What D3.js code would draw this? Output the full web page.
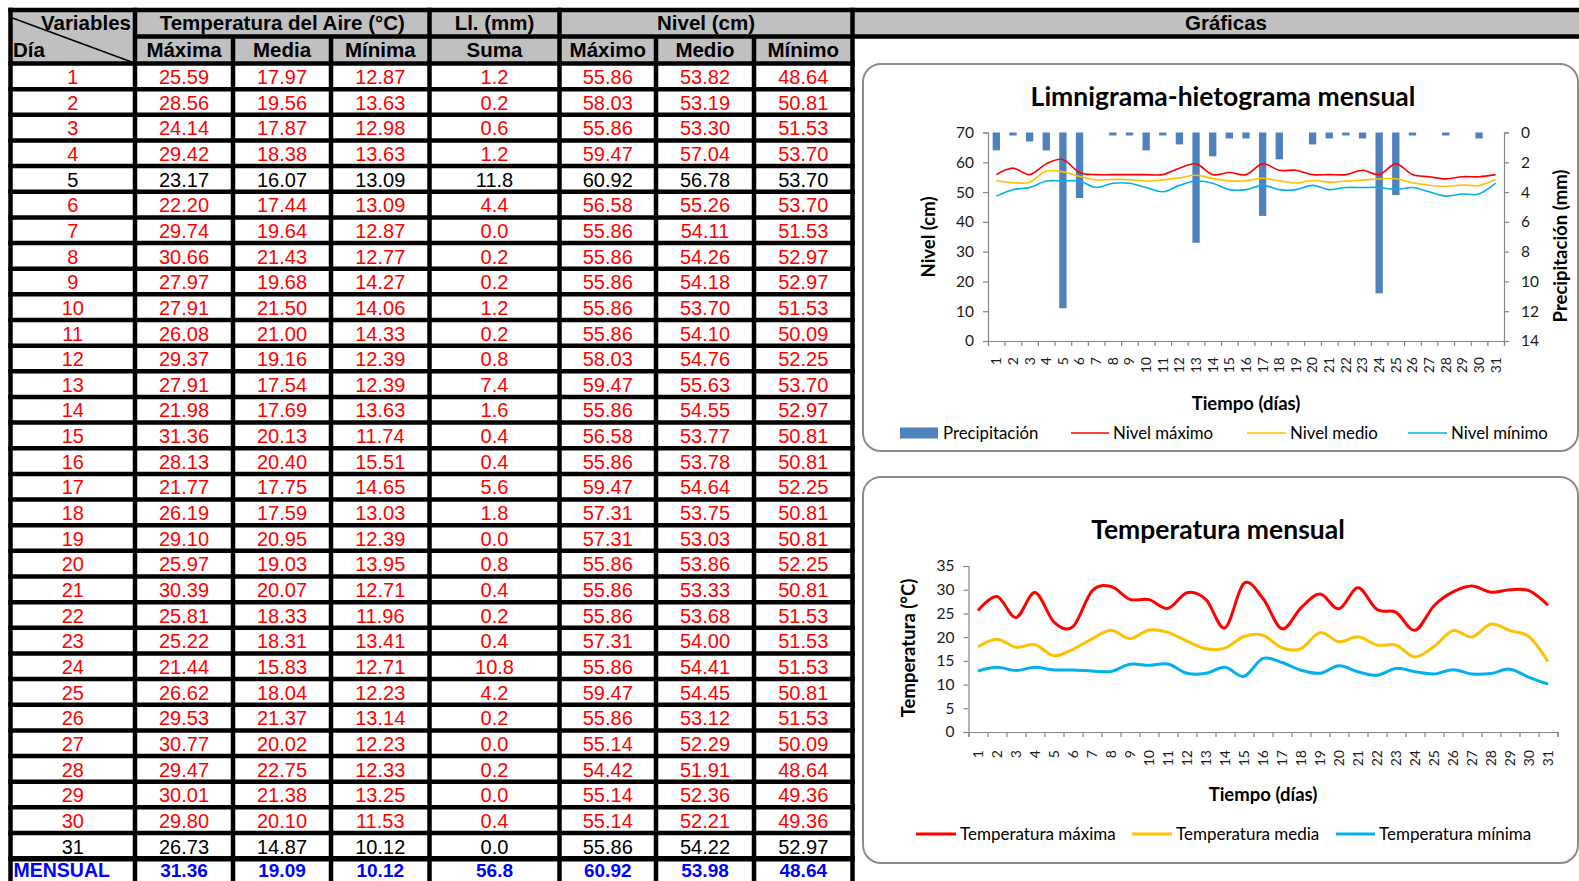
<!DOCTYPE html>
<html><head><meta charset="utf-8">
<script src="https://cdn.jsdelivr.net/npm/d3@7"></script>
<style>
html,body{margin:0;padding:0;background:#fff;overflow:hidden}
svg{display:block}
</style></head>
<body>
<svg id="root" width="1579" height="881"></svg>
<script>
// ---------------- DATA ----------------
const dias = d3.range(1, 32);
const tempMax = [25.59,28.56,24.14,29.42,23.17,22.20,29.74,30.66,27.97,27.91,26.08,29.37,27.91,21.98,31.36,28.13,21.77,26.19,29.10,25.97,30.39,25.81,25.22,21.44,26.62,29.53,30.77,29.47,30.01,29.80,26.73];
const tempMed = [17.97,19.56,17.87,18.38,16.07,17.44,19.64,21.43,19.68,21.50,21.00,19.16,17.54,17.69,20.13,20.40,17.75,17.59,20.95,19.03,20.07,18.33,18.31,15.83,18.04,21.37,20.02,22.75,21.38,20.10,14.87];
const tempMin = [12.87,13.63,12.98,13.63,13.09,13.09,12.87,12.77,14.27,14.06,14.33,12.39,12.39,13.63,11.74,15.51,14.65,13.03,12.39,13.95,12.71,11.96,13.41,12.71,12.23,13.14,12.23,12.33,13.25,11.53,10.12];
const lluvia  = [1.2,0.2,0.6,1.2,11.8,4.4,0.0,0.2,0.2,1.2,0.2,0.8,7.4,1.6,0.4,0.4,5.6,1.8,0.0,0.8,0.4,0.2,0.4,10.8,4.2,0.2,0.0,0.2,0.0,0.4,0.0];
const nivelMax = [55.86,58.03,55.86,59.47,60.92,56.58,55.86,55.86,55.86,55.86,55.86,58.03,59.47,55.86,56.58,55.86,59.47,57.31,57.31,55.86,55.86,55.86,57.31,55.86,59.47,55.86,55.14,54.42,55.14,55.14,55.86];
const nivelMed = [53.82,53.19,53.30,57.04,56.78,55.26,54.11,54.26,54.18,53.70,54.10,54.76,55.63,54.55,53.77,53.78,54.64,53.75,53.03,53.86,53.33,53.68,54.00,54.41,54.45,53.12,52.29,51.91,52.36,52.21,54.22];
const nivelMin = [48.64,50.81,51.53,53.70,53.70,53.70,51.53,52.97,52.97,51.53,50.09,52.25,53.70,52.97,50.81,50.81,52.25,50.81,50.81,52.25,50.81,51.53,51.53,51.53,50.81,51.53,50.09,48.64,49.36,49.36,52.97];
const mensual = [31.36,19.09,10.12,56.8,60.92,53.98,48.64];
const subHeaders = ["Máxima","Media","Mínima","Suma","Máximo","Medio","Mínimo"];
const groupHeaders = [["Temperatura del Aire (°C)",1,4],["Ll. (mm)",4,5],["Nivel (cm)",5,8]];
const nivelTicks = d3.range(0, 71, 10);
const precTicks = d3.range(0, 15, 2);
const tempTicks = d3.range(0, 36, 5);

// ---------------- TABLE ----------------
const svg = d3.select("#root");
const colX = [10.5,135,233,331,429.5,559.5,656,754,852.5];
const yTop = 10, yH1 = 36.5, yH2 = 63.5, rowH = 25.65;
const rowY = k => yH2 + k*rowH;
const tbl = svg.append("g");
const GRAY = "#c0c0c0";
const FT = "'Liberation Sans', Arial, sans-serif";

tbl.append("rect").attr("x",colX[0]).attr("y",yTop).attr("width",1579-colX[0]).attr("height",yH2-yTop).attr("fill",GRAY);
tbl.append("rect").attr("x",colX[8]).attr("y",yH1).attr("width",1579-colX[8]).attr("height",yH2-yH1+2).attr("fill","#fff");

const columns = [dias, tempMax, tempMed, tempMin, lluvia, nivelMax, nivelMed, nivelMin];
const fmt = [d=>String(d), d=>d.toFixed(2), d=>d.toFixed(2), d=>d.toFixed(2), d=>d.toFixed(1), d=>d.toFixed(2), d=>d.toFixed(2), d=>d.toFixed(2)];
const blackDays = new Set([5,31]);

dias.forEach((d,i)=>{
  const cy = rowY(i) + rowH/2 + 0.5;
  columns.forEach((col,c)=>{
    tbl.append("text").attr("x",(colX[c]+colX[c+1])/2).attr("y",cy).attr("dy","0.36em")
      .attr("text-anchor","middle").attr("font-family",FT).attr("font-size",20)
      .attr("fill", blackDays.has(d) ? "#000" : "#ff0000").text(fmt[c](col[i]));
  });
});
{
  const cy = rowY(31) + rowH/2 - 1.5;
  tbl.append("text").attr("x",colX[0]+3).attr("y",cy).attr("dy","0.36em").attr("font-family",FT)
    .attr("font-size",19.5).attr("font-weight","bold").attr("fill","#0000ff").text("MENSUAL");
  mensual.forEach((v,c)=>{
    tbl.append("text").attr("x",(colX[c+1]+colX[c+2])/2).attr("y",cy).attr("dy","0.36em")
      .attr("text-anchor","middle").attr("font-family",FT).attr("font-size",19).attr("font-weight","bold")
      .attr("fill","#0000ff").text(c===3 ? v.toFixed(1) : v.toFixed(2));
  });
}
const hb = (x,y,t,anchor)=>tbl.append("text").attr("x",x).attr("y",y).attr("dy","0.36em").attr("text-anchor",anchor||"middle")
  .attr("font-family",FT).attr("font-size",20.5).attr("font-weight","bold").attr("fill","#000").text(t);
const h1y = (yTop+yH1)/2 - 0.5, h2y = (yH1+yH2)/2 - 0.5;
hb(131,h1y,"Variables","end");
hb(13,h2y,"Día","start");
groupHeaders.forEach(([t,a,b])=>hb((colX[a]+colX[b])/2,h1y,t));
hb(1226,h1y,"Gráficas");
subHeaders.forEach((t,c)=>hb((colX[c+1]+colX[c+2])/2,h2y,t));
tbl.append("line").attr("x1",colX[0]+2).attr("y1",18).attr("x2",colX[1]-2).attr("y2",yH2-1)
  .attr("stroke","#000").attr("stroke-width",1.6);

const BW = 4.5;
const hl = (x1,x2,y,w)=>tbl.append("line").attr("x1",x1).attr("x2",x2).attr("y1",y).attr("y2",y).attr("stroke","#000").attr("stroke-width",w||BW);
const vl = (x,y1,y2,w)=>tbl.append("line").attr("x1",x).attr("x2",x).attr("y1",y1).attr("y2",y2).attr("stroke","#000").attr("stroke-width",w||BW);
hl(colX[0]-2.25,1579,yTop);
hl(colX[1],1579,yH1);
for(let k=0;k<=32;k++) hl(colX[0]-2.25,colX[8]+2.25,rowY(k), k===31?5.5:BW);
colX.forEach((x,c)=>{
  const inner = (c===2||c===3||c===6||c===7);
  vl(x, inner ? yH1 : yTop-2.25, 881);
});

// ---------------- CHART HELPERS ----------------
const FC = "Lato, 'Open Sans', sans-serif";
const AX = "#868686";
function styleAxis(g){
  g.select(".domain").attr("stroke",AX).attr("stroke-width",1.2);
  g.selectAll(".tick line").attr("stroke",AX).attr("stroke-width",1.2);
  g.selectAll(".tick text").attr("font-family",FC).attr("fill","#1a1a1a");
}
function box(y,h){
  svg.append("rect").attr("x",863).attr("y",y).attr("width",715).attr("height",h).attr("rx",18).attr("ry",18)
    .attr("fill","#fff").attr("stroke","#8c8c8c").attr("stroke-width",2);
}
function legendLine(g,x1,x2,y,color,w,label,fs){
  g.append("line").attr("x1",x1).attr("x2",x2).attr("y1",y).attr("y2",y).attr("stroke",color).attr("stroke-width",w);
  g.append("text").attr("x",x2+4).attr("y",y).attr("dy","0.35em").attr("font-family",FC).attr("font-size",fs).attr("fill","#000").text(label);
}
const AT = 18.5; // axis title size

// ---------------- CHART 1 ----------------
box(64,387);
const c1 = svg.append("g");
const L1 = 988, R1 = 1504, T1 = 132.5, B1 = 341;
const xb1 = d3.scaleBand().domain(dias).range([L1,R1]).paddingInner(0.56).paddingOuter(0.28);
const xs1 = d3.scaleLinear().domain([0,31]).range([L1,R1]);
const yN = d3.scaleLinear().domain([0,70]).range([B1,T1]);
const yP = d3.scaleLinear().domain([0,14]).range([T1,B1]);
const cx1 = d => xs1(d-0.5);

c1.append("text").attr("x",1223).attr("y",97).attr("dy","0.35em").attr("text-anchor","middle")
  .attr("font-family",FC).attr("font-weight","bold").attr("font-size",26.5).attr("fill","#000").text("Limnigrama-hietograma mensual");

c1.selectAll("rect.bar").data(dias).join("rect").attr("class","bar")
  .attr("x",d=>xb1(d)).attr("width",xb1.bandwidth()).attr("y",yP(0)).attr("height",(d,i)=>yP(lluvia[i])-yP(0))
  .attr("fill","#4f81bd");

const gL1 = c1.append("g").attr("transform",`translate(${L1},0)`).call(d3.axisLeft(yN).tickValues(nivelTicks).tickSize(5).tickPadding(9));
styleAxis(gL1); gL1.selectAll(".tick text").attr("font-size",15.5);
const gR1 = c1.append("g").attr("transform",`translate(${R1},0)`).call(d3.axisRight(yP).tickValues(precTicks).tickSize(5).tickPadding(12));
styleAxis(gR1); gR1.selectAll(".tick text").attr("font-size",15.5);
const gB1 = c1.append("g").attr("transform",`translate(0,${B1})`).call(d3.axisBottom(xs1).tickValues(d3.range(0,32)).tickSize(5).tickFormat(""));
styleAxis(gB1);
c1.selectAll("text.xl1").data(dias).join("text").attr("class","xl1")
  .attr("transform",d=>`translate(${cx1(d)},${B1+16}) rotate(-90)`).attr("dy","0.35em").attr("text-anchor","end")
  .attr("font-family",FC).attr("font-size",14).attr("fill","#1a1a1a").text(d=>d);

const line1 = arr => d3.line().x((v,i)=>cx1(dias[i])).y(v=>yN(v)).curve(d3.curveCatmullRom.alpha(0))(arr);
[[nivelMax,"#ff0000"],[nivelMed,"#ffc000"],[nivelMin,"#00b0f0"]].forEach(([a,c])=>{
  c1.append("path").attr("d",line1(a)).attr("fill","none").attr("stroke",c).attr("stroke-width",1.6);
});

c1.append("text").attr("transform","translate(929,237) rotate(-90)").attr("dy","0.35em").attr("text-anchor","middle")
  .attr("font-family",FC).attr("font-weight","bold").attr("font-size",AT).attr("fill","#000").text("Nivel (cm)");
c1.append("text").attr("transform","translate(1561,246) rotate(-90)").attr("dy","0.35em").attr("text-anchor","middle")
  .attr("font-family",FC).attr("font-weight","bold").attr("font-size",AT).attr("fill","#000").text("Precipitación (mm)");
c1.append("text").attr("x",1246).attr("y",404).attr("dy","0.35em").attr("text-anchor","middle")
  .attr("font-family",FC).attr("font-weight","bold").attr("font-size",AT).attr("fill","#000").text("Tiempo (días)");

const lg1 = c1.append("g");
const LG1Y = 433;
lg1.append("rect").attr("x",900).attr("y",LG1Y-5.5).attr("width",38).attr("height",11).attr("fill","#4f81bd");
lg1.append("text").attr("x",943).attr("y",LG1Y).attr("dy","0.35em").attr("font-family",FC).attr("font-size",16.8).attr("fill","#000").text("Precipitación");
legendLine(lg1,1071,1109,LG1Y,"#ff0000",1.6,"Nivel máximo",16.8);
legendLine(lg1,1247,1286,LG1Y,"#ffc000",1.6,"Nivel medio",16.8);
legendLine(lg1,1408,1447,LG1Y,"#00b0f0",1.6,"Nivel mínimo",16.8);

// ---------------- CHART 2 ----------------
box(477,386);
const c2 = svg.append("g");
const L2 = 968.5, R2 = 1557.5, T2 = 566, B2 = 732;
const xs2 = d3.scaleLinear().domain([0,31]).range([L2,R2]);
const yT = d3.scaleLinear().domain([0,35]).range([B2,T2]);
const cx2 = d => xs2(d-0.5);

c2.append("text").attr("x",1218).attr("y",530).attr("dy","0.35em").attr("text-anchor","middle")
  .attr("font-family",FC).attr("font-weight","bold").attr("font-size",26.5).attr("fill","#000").text("Temperatura mensual");

const gL2 = c2.append("g").attr("transform",`translate(${L2},0)`).call(d3.axisLeft(yT).tickValues(tempTicks).tickSize(5).tickPadding(9));
styleAxis(gL2); gL2.selectAll(".tick text").attr("font-size",15.5);
const gB2 = c2.append("g").attr("transform",`translate(0,${B2})`).call(d3.axisBottom(xs2).tickValues(d3.range(0,32)).tickSize(5).tickFormat(""));
styleAxis(gB2);
c2.selectAll("text.xl2").data(dias).join("text").attr("class","xl2")
  .attr("transform",d=>`translate(${cx2(d)},${B2+18}) rotate(-90)`).attr("dy","0.35em").attr("text-anchor","end")
  .attr("font-family",FC).attr("font-size",14).attr("fill","#1a1a1a").text(d=>d);

const line2 = arr => d3.line().x((v,i)=>cx2(dias[i])).y(v=>yT(v)).curve(d3.curveCatmullRom.alpha(0))(arr);
[[tempMax,"#ff0000"],[tempMed,"#ffc000"],[tempMin,"#00b0f0"]].forEach(([a,c])=>{
  c2.append("path").attr("d",line2(a)).attr("fill","none").attr("stroke",c).attr("stroke-width",3);
});

c2.append("text").attr("transform","translate(909,648) rotate(-90)").attr("dy","0.35em").attr("text-anchor","middle")
  .attr("font-family",FC).attr("font-weight","bold").attr("font-size",AT).attr("fill","#000").text("Temperatura (°C)");
c2.append("text").attr("x",1263).attr("y",795).attr("dy","0.35em").attr("text-anchor","middle")
  .attr("font-family",FC).attr("font-weight","bold").attr("font-size",AT).attr("fill","#000").text("Tiempo (días)");

const lg2 = c2.append("g");
const LG2Y = 834;
legendLine(lg2,916,956,LG2Y,"#ff0000",3,"Temperatura máxima",17);
legendLine(lg2,1132,1172,LG2Y,"#ffc000",3,"Temperatura media",17);
legendLine(lg2,1336,1375,LG2Y,"#00b0f0",3,"Temperatura mínima",17);
</script>
</body></html>
